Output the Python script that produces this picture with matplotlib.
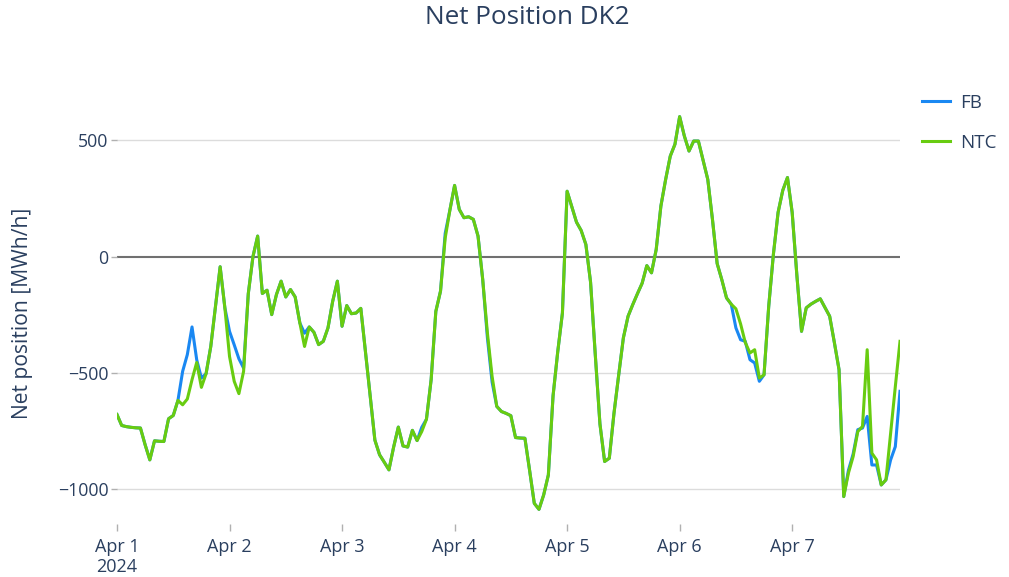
import matplotlib
matplotlib.use("Agg")
import matplotlib.pyplot as plt
import matplotlib.dates as mdates
import pandas as pd

# Hourly net position, DK2, 1-7 April 2024 (MWh/h)
start = "2024-04-01 00:00"
ntc = [
    -680, -727, -732, -735, -737, -738, -810, -875, -793, -795, -796, -698,
    -684, -619, -638, -613, -530, -456, -563, -504, -387, -215, -44, -220,
    -430, -537, -590, -494, -160, 0, 88, -159, -145, -250, -164, -106,
    -174, -142, -174, -286, -387, -303, -326, -379, -365, -307, -193, -106,
    -300, -211, -246, -243, -223, -410, -600, -790, -853, -885, -918, -820,
    -734, -815, -820, -748, -792, -753, -700, -530, -236, -149, 80, 200,
    306, 203, 167, 171, 160, 88, -99, -329, -516, -645, -667, -675,
    -685, -779, -781, -782, -920, -1062, -1088, -1026, -940, -600, -410, -243,
    281, 215, 148, 112, 52, -110, -420, -720, -882, -868, -674, -510,
    -350, -257, -207, -160, -115, -39, -70, 30, 217, 330, 432, 483,
    602, 519, 454, 497, 497, 415, 332, 160, -30, -100, -178, -205,
    -225, -290, -370, -415, -401, -523, -509, -214, 10, 190, 285, 340,
    190, -80, -322, -221, -205, -193, -182, -220, -257, -370, -487, -1033,
    -932, -861, -753, -731, -401, -846, -875, -983, -961, -760, -560, -365,
]
fb = [
    -680, -727, -732, -735, -737, -738, -810, -875, -793, -795, -796, -698,
    -684, -619, -494, -422, -303, -444, -523, -504, -387, -215, -44, -220,
    -322, -380, -440, -480, -160, 0, 88, -159, -145, -250, -164, -106,
    -174, -142, -174, -286, -330, -303, -326, -379, -365, -307, -193, -106,
    -300, -211, -246, -243, -223, -410, -600, -790, -853, -885, -918, -820,
    -734, -815, -820, -748, -792, -735, -700, -530, -236, -149, 100, 200,
    306, 203, 167, 171, 160, 88, -99, -350, -540, -645, -667, -675,
    -685, -779, -781, -782, -920, -1062, -1088, -1026, -940, -600, -410, -243,
    281, 215, 148, 112, 52, -110, -420, -720, -882, -868, -674, -510,
    -350, -257, -207, -160, -115, -39, -70, 30, 217, 330, 432, 483,
    602, 519, 454, 497, 497, 415, 332, 160, -30, -100, -178, -205,
    -307, -358, -365, -444, -458, -537, -509, -214, 10, 190, 285, 340,
    190, -80, -322, -221, -205, -193, -182, -220, -257, -370, -487, -1033,
    -920, -850, -745, -738, -688, -897, -897, -983, -961, -875, -818, -580,
]
series_names = ["FB", "NTC"]
y_ticks = [-1000, -500, 0, 500]
y_tick_labels = ["\u22121000", "\u2212500", "0", "500"]
day_labels = ["Apr 1\n2024", "Apr 2", "Apr 3", "Apr 4", "Apr 5", "Apr 6", "Apr 7"]

times = pd.date_range(start, periods=len(ntc), freq="h")
days = pd.date_range(start, periods=len(day_labels), freq="D")

text_color = "#2a3f5f"
plt.rcParams["font.family"] = ["Open Sans", "DejaVu Sans"]

fig = plt.figure(figsize=(10.09, 5.77), dpi=100)
ax = fig.add_axes([117 / 1009, 1 - 524 / 577, (900 - 117) / 1009, (524 - 102) / 577])

for y in y_ticks:
    if y != 0:
        ax.axhline(y, color="#dcdcdc", lw=1.0, zorder=0)
ax.axhline(0, color="#707070", lw=1.5, zorder=1)

ax.plot(times, fb, color="#1a88f2", lw=2.2, label=series_names[0], zorder=2)
ax.plot(times, ntc, color="#68cc10", lw=2.2, label=series_names[1], zorder=3)

ax.set_xlim(times[0], times[-1])
ax.set_ylim(-1151, 665)

ax.set_xticks(days)
ax.set_xticklabels(day_labels, ha="center", va="top", linespacing=1.15)
ax.set_yticks(y_ticks)
ax.set_yticklabels(y_tick_labels)

ax.tick_params(axis="x", length=5, width=1, color="#b0b0b0", pad=5,
               labelsize=13, labelcolor=text_color)
ax.tick_params(axis="y", length=4, width=1, color="#b0b0b0", pad=2,
               labelsize=12.8, labelcolor=text_color)
for s in ax.spines.values():
    s.set_visible(False)

ax.set_ylabel("Net position [MWh/h]", fontsize=15.2, color=text_color)
ax.yaxis.set_label_coords((33 - 117) / 783, 0.5)
fig.text(527 / 1009, 1 - 18 / 577, "Net Position DK2", ha="center", va="center",
         fontsize=18.8, color=text_color)

fig.legend(loc="upper left", bbox_to_anchor=(905 / 1009, 1 - 77 / 577),
           frameon=False, fontsize=13.5, handlelength=1.5, handletextpad=0.55,
           labelspacing=1.16, labelcolor=text_color)

fig.savefig("out.png", dpi=100, facecolor="white")
